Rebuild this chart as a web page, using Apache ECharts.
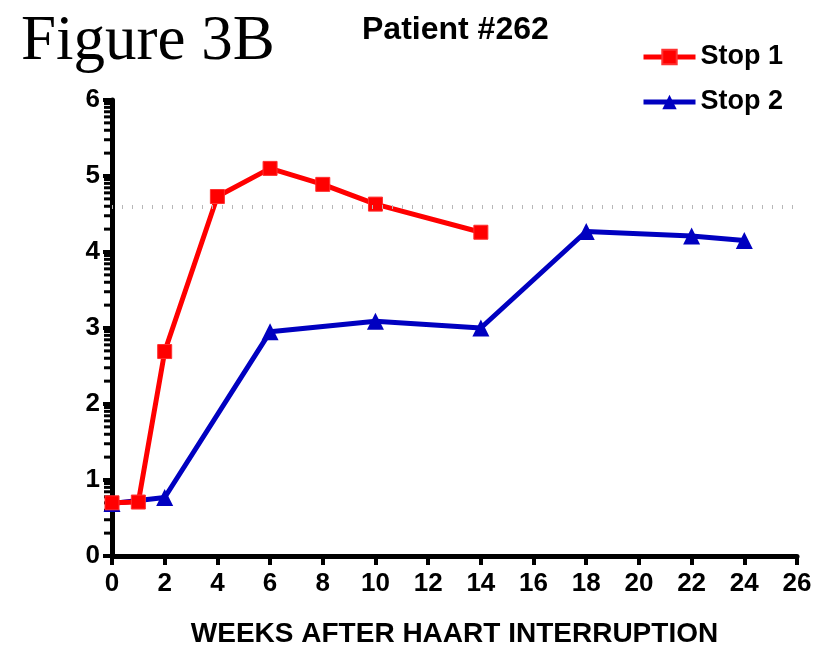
<!DOCTYPE html>
<html>
<head>
<meta charset="utf-8">
<script src="https://cdn.jsdelivr.net/npm/echarts@6/dist/echarts.min.js"></script>
<style>
  html, body { margin: 0; padding: 0; background: #fff; }
  #chart { width: 820px; height: 653px; }
</style>
</head>
<body>
<div id="chart"></div>
<script>
// weeks after interruption
var stop1Weeks = [0, 1, 2, 4, 6, 8, 10, 14];
var stop1Values = [0.70, 0.71, 2.69, 4.73, 5.10, 4.89, 4.63, 4.26];

var stop2Weeks = [0, 2, 6, 10, 14, 18, 22, 24];
var stop2Values = [0.69, 0.77, 2.95, 3.09, 3.00, 4.27, 4.21, 4.15];

// dotted reference level
var cutoffLevel = 4.6;

// log-style minor ticks (offsets inside each decade)
var minorOffsets = [0.301, 0.477, 0.602, 0.699, 0.778, 0.845, 0.903, 0.954];
var decades = [0, 1, 2, 3, 4, 5];

var minorTickData = [];
decades.forEach(function (d) {
    minorOffsets.forEach(function (o) {
        minorTickData.push([0, d + o]);
    });
});

function pairs(xs, ys) {
    return xs.map(function (x, i) { return [x, ys[i]]; });
}

var FONT = '"Liberation Sans", Arial, sans-serif';

var chart = echarts.init(document.getElementById('chart'));

chart.setOption({
    animation: false,
    backgroundColor: '#fff',
    title: {
        text: 'Patient #262',
        left: 357,
        top: 9,
        textStyle: { fontFamily: FONT, fontWeight: 'bold', fontSize: 32, color: '#000' }
    },
    graphic: [{
        type: 'text',
        left: 21,
        top: 11,
        style: {
            text: 'Figure 3B',
            font: '63px "Liberation Serif", "Times New Roman", serif',
            fill: '#000'
        }
    }],
    legend: {
        data: ['Stop 1', 'Stop 2'],
        orient: 'vertical',
        left: 636,
        top: 38,
        itemWidth: 52,
        itemHeight: 18,
        itemGap: 17,
        lineStyle: { width: 5 },
        textStyle: { fontFamily: FONT, fontWeight: 'bold', fontSize: 27, color: '#000', lineHeight: 28 }
    },
    grid: {
        left: 112,
        right: 23,
        top: 100,
        bottom: 97
    },
    xAxis: {
        type: 'value',
        min: 0,
        max: 26,
        interval: 2,
        name: 'WEEKS AFTER HAART INTERRUPTION',
        nameLocation: 'middle',
        nameGap: 64,
        nameTextStyle: { fontFamily: FONT, fontWeight: 'bold', fontSize: 28, color: '#000' },
        axisLine: { show: true, onZero: false, lineStyle: { color: '#000', width: 5 } },
        axisTick: { show: true, length: 9, lineStyle: { color: '#000', width: 4 } },
        axisLabel: { margin: 15, fontFamily: FONT, fontWeight: 'bold', fontSize: 26, color: '#000' },
        splitLine: { show: false }
    },
    yAxis: {
        type: 'value',
        min: 0,
        max: 6,
        interval: 1,
        axisLine: { show: true, onZero: false, lineStyle: { color: '#000', width: 5 } },
        axisTick: { show: true, length: 9, lineStyle: { color: '#000', width: 4 } },
        axisLabel: { margin: 12, fontFamily: FONT, fontWeight: 'bold', fontSize: 26, color: '#000' },
        splitLine: { show: false }
    },
    series: [
        {
            name: 'minor ticks',
            type: 'custom',
            clip: false,
            silent: true,
            data: minorTickData,
            renderItem: function (params, api) {
                var p = api.coord([api.value(0), api.value(1)]);
                return {
                    type: 'line',
                    shape: { x1: p[0] - 8, y1: p[1], x2: p[0] - 2, y2: p[1] },
                    style: { stroke: '#000', lineWidth: 3 }
                };
            },
            z: 1
        },
        {
            name: 'Stop 2',
            type: 'line',
            data: pairs(stop2Weeks, stop2Values),
            color: '#0000c0',
            symbol: 'triangle',
            symbolSize: 17,
            lineStyle: { width: 5, color: '#0000c0' },
            itemStyle: { color: '#0000c0' },
            z: 2
        },
        {
            name: 'Stop 1',
            type: 'line',
            data: pairs(stop1Weeks, stop1Values),
            color: '#ff0000',
            symbol: 'rect',
            symbolSize: 14,
            lineStyle: { width: 5, color: '#ff0000' },
            itemStyle: { color: '#ff0000', borderColor: '#ff3030', borderWidth: 1 },
            markLine: {
                silent: true,
                symbol: 'none',
                label: { show: false },
                lineStyle: { color: '#b8b8b8', width: 4, type: [1, 9] },
                data: [{ yAxis: cutoffLevel }]
            },
            z: 3
        }
    ]
});
</script>
</body>
</html>
